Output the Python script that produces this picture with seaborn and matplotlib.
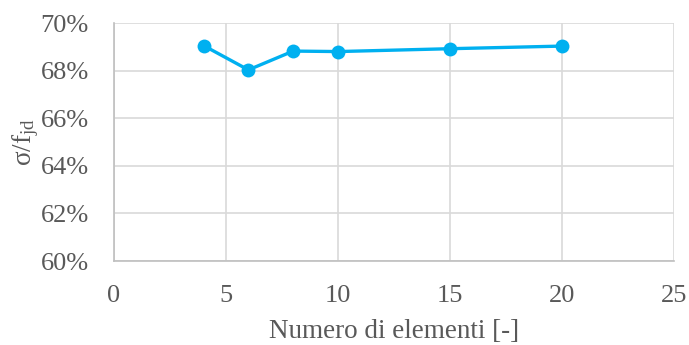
import matplotlib
matplotlib.use("Agg")
import matplotlib.pyplot as plt
import seaborn as sns
import pandas as pd
from matplotlib.ticker import FuncFormatter

n_elements = [4, 6, 8, 10, 15, 20]
ratio = [69.05, 68.03, 68.82, 68.8, 68.92, 69.03]
x_ticks = [0, 5, 10, 15, 20, 25]
y_ticks = [60, 62, 64, 66, 68, 70]

sns.set_theme(style="white")
plt.rcParams['font.family'] = ['Liberation Serif', 'DejaVu Serif']
plt.rcParams['mathtext.fontset'] = 'custom'
plt.rcParams['mathtext.rm'] = 'Liberation Serif'
plt.rcParams['mathtext.it'] = 'Liberation Serif:italic'

df = pd.DataFrame({"n": n_elements, "r": ratio})

fig = plt.figure(figsize=(6.89, 3.45), dpi=100)
ax = fig.add_axes([114/689, 1-261/345, (674-114)/689, (261-23)/345])

sns.lineplot(data=df, x="n", y="r", ax=ax, color="#00B0F0", linewidth=2.4,
             marker="o", markersize=10, markeredgewidth=0, zorder=3)

ax.set_xlim(0, 25)
ax.set_ylim(60, 70)
ax.set_xticks(x_ticks)
ax.set_yticks(y_ticks)
ax.yaxis.set_major_formatter(FuncFormatter(lambda v, p: f"{v:.0f}%"))
ax.grid(True, color="#D9D9D9", linewidth=1.2)
ax.set_axisbelow(True)
for s in ["top", "right"]:
    ax.spines[s].set_visible(False)
for s in ["left", "bottom"]:
    ax.spines[s].set_color("#BFBFBF")
    ax.spines[s].set_linewidth(1.2)
ax.tick_params(axis="both", length=0, labelsize=19, colors="#595959")
ax.tick_params(axis="x", pad=17)
ax.tick_params(axis="y", pad=18)
ax.set_xlabel("Numero di elementi [-]", fontsize=19.5, color="#595959", labelpad=9)
ax.set_ylabel(r"σ/f$_{\mathrm{jd}}$", fontsize=19.5, color="#595959", labelpad=0)

fig.savefig("out.png", dpi=100)
